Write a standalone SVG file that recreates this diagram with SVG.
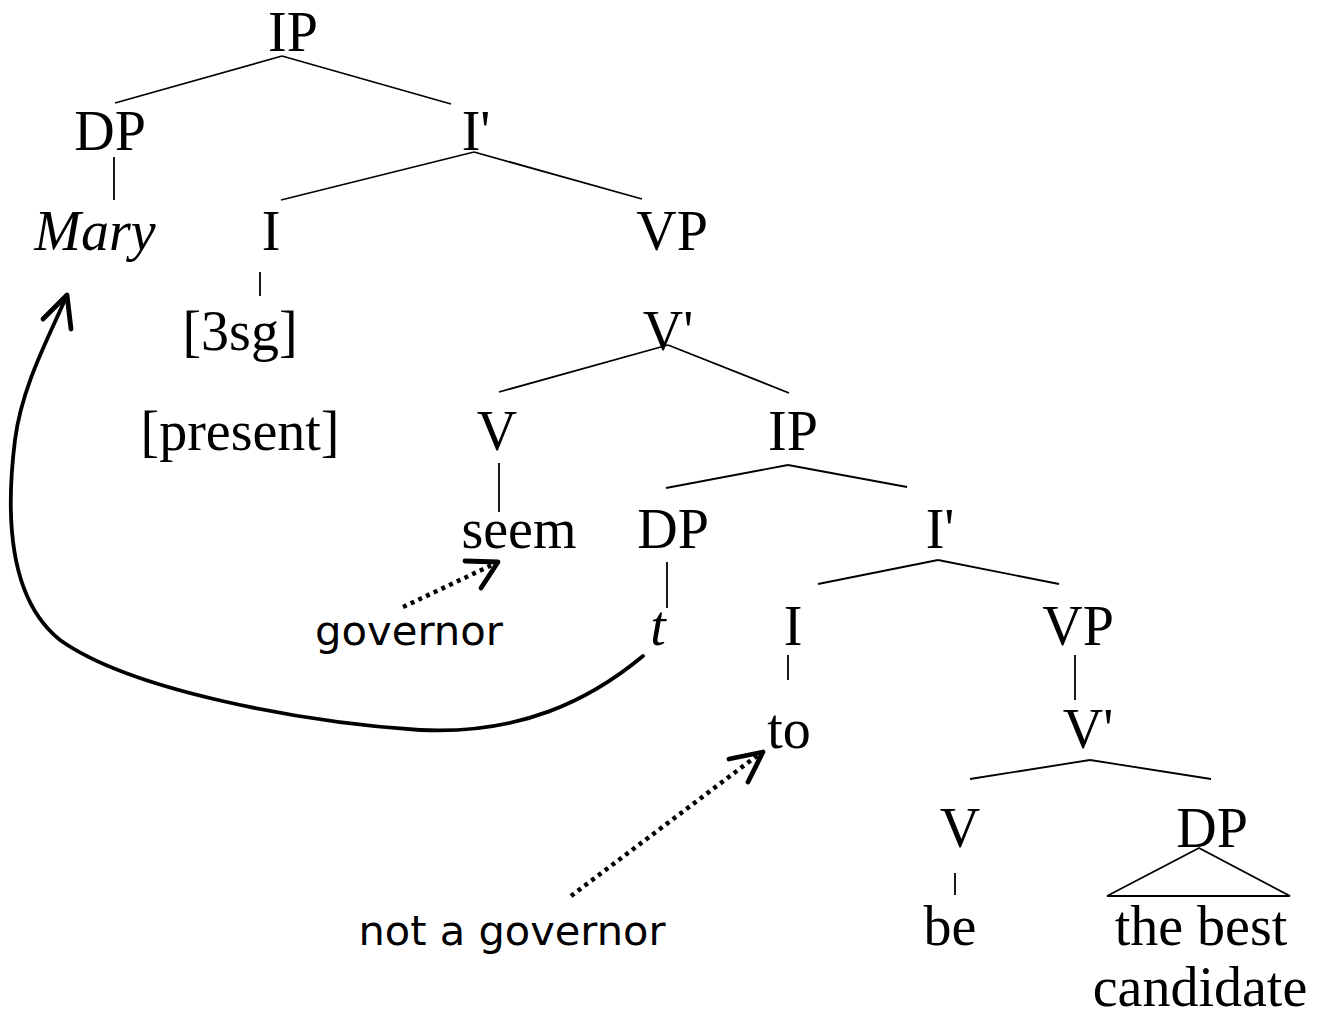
<svg xmlns="http://www.w3.org/2000/svg" width="1328" height="1015" viewBox="0 0 1328 1015">
<style>
.n{font-family:"Liberation Serif","Times New Roman",serif;font-size:56px;fill:#000;text-anchor:middle}
.i{font-style:italic}
.s{font-family:"DejaVu Sans",Verdana,sans-serif;font-size:40px;fill:#000;text-anchor:middle}
.e line,.e polygon{stroke:#000;stroke-width:1.8;fill:none}
.mv{stroke:#000;stroke-width:3.8;fill:none;stroke-linecap:round;stroke-linejoin:round}
.ah{stroke:#000;stroke-width:4.8;fill:none;stroke-linecap:round;stroke-linejoin:round}
.dot{stroke:#000;stroke-width:4.5;fill:none;stroke-dasharray:4 4.5}
</style>
<rect width="1328" height="1015" fill="#fff"/>
<g id="connectors" class="e">
<line x1="282" y1="56" x2="115" y2="103"/>
<line x1="282" y1="56" x2="451" y2="104"/>
<line x1="114" y1="157" x2="114" y2="200"/>
<line x1="474" y1="152" x2="281" y2="200"/>
<line x1="474" y1="152" x2="642" y2="199"/>
<line x1="260" y1="272" x2="260" y2="296"/>
<line x1="668" y1="345" x2="499" y2="392"/>
<line x1="668" y1="345" x2="789" y2="393"/>
<line x1="499" y1="463" x2="499" y2="512"/>
<line x1="788" y1="465" x2="666" y2="488"/>
<line x1="788" y1="465" x2="907" y2="487"/>
<line x1="667" y1="562" x2="667" y2="608"/>
<line x1="938" y1="560" x2="818" y2="584"/>
<line x1="938" y1="560" x2="1059" y2="584"/>
<line x1="788" y1="655" x2="788" y2="680"/>
<line x1="1075" y1="655" x2="1075" y2="700"/>
<line x1="1090" y1="760" x2="970" y2="779"/>
<line x1="1090" y1="760" x2="1211" y2="779"/>
<line x1="955" y1="873" x2="955" y2="895"/>
<polygon points="1199,848 1107,896 1290,896"/>
</g>
<g id="arrows">
<path class="mv" d="M643,656 C590,700 520,735 420,730 C300,722 130,690 60,640 C10,600 5,520 15,440 C22,385 50,335 67,295"/>
<polyline class="ah" points="43,319 67,295 71,329"/>
<line class="dot" x1="403" y1="607" x2="494" y2="564"/>
<polyline class="ah" points="465,561 498,562 481,588"/>
<line class="dot" x1="571" y1="896" x2="758" y2="755"/>
<polyline class="ah" points="729,759 763,752 748,782"/>
</g>
<g id="IP1"><text class="n" x="293" y="51">IP</text></g>
<g id="DP1"><text class="n" x="110" y="150">DP</text></g>
<g id="Ibar1"><text class="n" x="476" y="150">I'</text></g>
<g id="Mary"><text class="n i" x="95" y="250">Mary</text></g>
<g id="I1"><text class="n" x="271" y="250">I</text></g>
<g id="VP1"><text class="n" x="672" y="250">VP</text></g>
<g id="sg3"><text class="n" x="240" y="350">[3sg]</text></g>
<g id="Vbar1"><text class="n" x="668" y="350">V'</text></g>
<g id="present"><text class="n" x="240" y="450">[present]</text></g>
<g id="V1"><text class="n" x="497" y="450">V</text></g>
<g id="IP2"><text class="n" x="793" y="450">IP</text></g>
<g id="seem"><text class="n" x="519" y="548">seem</text></g>
<g id="DP2"><text class="n" x="673" y="548">DP</text></g>
<g id="Ibar2"><text class="n" x="940" y="548">I'</text></g>
<g id="governor"><text class="s" x="409" y="645" textLength="188" lengthAdjust="spacingAndGlyphs">governor</text></g>
<g id="trace"><text class="n i" x="658" y="645">t</text></g>
<g id="I2"><text class="n" x="793" y="645">I</text></g>
<g id="VP2"><text class="n" x="1078" y="645">VP</text></g>
<g id="to"><text class="n" x="789" y="748">to</text></g>
<g id="Vbar2"><text class="n" x="1088" y="748">V'</text></g>
<g id="V2"><text class="n" x="960" y="847">V</text></g>
<g id="DP3"><text class="n" x="1212" y="847">DP</text></g>
<g id="notgov"><text class="s" x="512" y="945" textLength="307" lengthAdjust="spacingAndGlyphs">not a governor</text></g>
<g id="be"><text class="n" x="950" y="945">be</text></g>
<g id="thebest"><text class="n" x="1201" y="945">the best</text><text class="n" x="1200" y="1006">candidate</text></g>
</svg>
